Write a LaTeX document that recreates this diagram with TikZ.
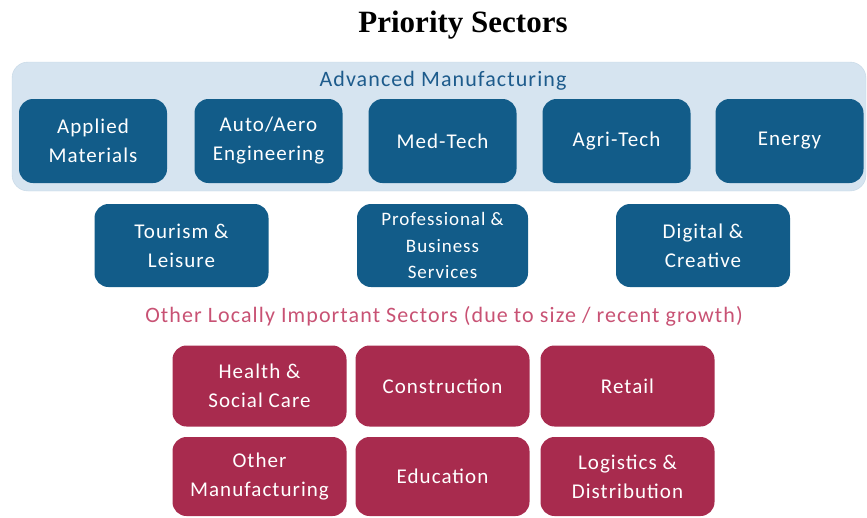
\documentclass[tikz,border=0pt]{standalone}
\usepackage{fontspec}
\setmainfont{Carlito}[LetterSpace=5]
\newfontfamily\titlefont{Liberation Serif}
\definecolor{secblue}{RGB}{18,92,137}
\definecolor{panelblue}{RGB}{214,228,240}
\definecolor{paneledge}{RGB}{196,214,228}
\definecolor{headblue}{RGB}{29,91,140}
\definecolor{secred}{RGB}{168,43,78}
\definecolor{headpink}{RGB}{200,82,116}
\tikzset{
  sec/.style={rounded corners=14pt, text=white, align=center, inner sep=0pt},
  amsec/.style={sec, fill=secblue, minimum width=148pt, minimum height=84pt,
    font=\fontsize{21}{29}\selectfont},
  prsec/.style={sec, fill=secblue, minimum width=174pt, minimum height=83pt,
    font=\fontsize{21}{29}\selectfont},
  locsec/.style={sec, fill=secred, minimum width=174pt, minimum height=81pt,
    font=\fontsize{21}{29}\selectfont},
  head/.style={inner sep=0pt, font=\fontsize{22}{26}\selectfont},
}
\begin{document}
\begin{tikzpicture}[x=1pt,y=-1pt]
\useasboundingbox (0,0) rectangle (867,517);
% title
\node[inner sep=0pt, font=\titlefont\bfseries\fontsize{31}{35}\selectfont] (title) at (463,25) {Priority Sectors};
% advanced manufacturing panel
\node[rounded corners=16pt, fill=panelblue, draw=paneledge, minimum width=854pt, minimum height=129pt] (panel) at (439,126.5) {};
\node[head, text=headblue] (amhead) at (443,81) {Advanced Manufacturing};
\foreach \i/\x/\t in {1/93/{Applied\\Materials},2/268.5/{Auto/Aero\\Engineering},
  3/442.5/Med-Tech,4/616.5/Agri-Tech,5/789.5/Energy}
  \node[amsec] (am\i) at (\x,141) {\t};
% other priority sectors
\node[prsec] (tour) at (181.5,245.5) {Tourism \&\\Leisure};
\node[prsec, minimum width=171pt, font=\fontsize{19}{26.5}\selectfont] (prof) at (442.5,245.5) {Professional \&\\Business\\Services};
\node[prsec] (digi) at (703,245.5) {Digital \&\\Creative};
% locally important sectors
\node[head, text=headpink] (lochead) at (444,316) {Other Locally Important Sectors (due to size / recent growth)};
\foreach \i/\x/\t in {1/259.5/{Health \&\\Social Care},2/442.5/Construction,3/627.5/Retail}
  \node[locsec] (loa\i) at (\x,386) {\t};
\foreach \i/\x/\t in {1/259.5/{Other\\Manufacturing},2/442.5/Education,3/627.5/{Logistics \&\\Distribution}}
  \node[locsec, minimum height=79pt] (lob\i) at (\x,476.5) {\t};
\end{tikzpicture}
\end{document}
